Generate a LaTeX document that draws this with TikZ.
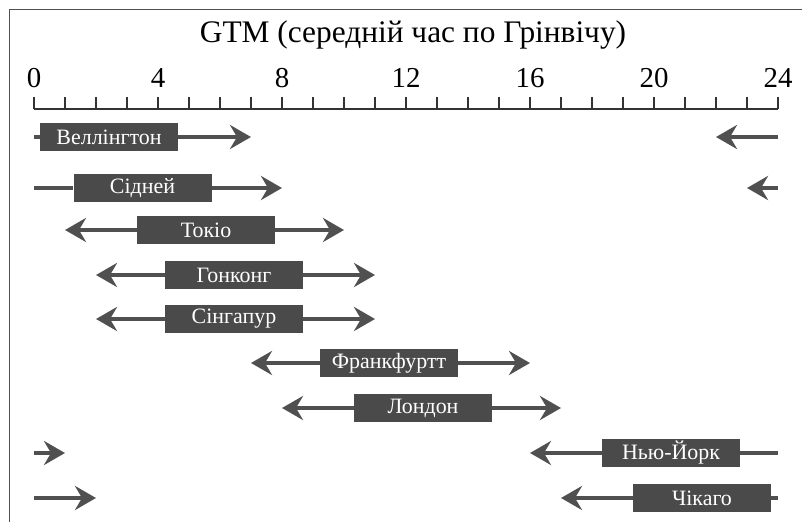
\documentclass[tikz,border=0pt]{standalone}
\usepackage{fontspec}
\setmainfont{Liberation Serif}
\usetikzlibrary{arrows.meta}
\definecolor{barfill}{HTML}{4A4A4A}
\definecolor{linegray}{HTML}{505050}
\begin{document}
\begin{tikzpicture}[x=1bp,y=-1bp,
  frame/.style={draw=linegray, line width=1.8bp},
  tickline/.style={draw=black!80, line width=1.4bp},
  span/.style={draw=linegray, line width=3.5bp},
  spanarrow/.style={span, -{Stealth[length=21bp,width=24bp,inset=7bp]}},
  market/.style={fill=barfill, text=white, minimum width=138bp, minimum height=28bp,
    inner sep=0pt, font=\fontsize{22}{24}\selectfont},
  hourlabel/.style={anchor=base, font=\fontsize{29}{32}\selectfont},
  title/.style={anchor=base, font=\fontsize{31.5}{34}\selectfont},
]
\useasboundingbox (0,0) rectangle (802,522);

% frame edges
\draw[frame] (9.5,522) |- (802,9.5);

% title and hour scale
\node[title] (ttl) at (413,43) {GTM (середній час по Грінвічу)};
\draw[tickline] (34,109) -- (778,109);
\foreach \h in {0,...,24} {
  \draw[tickline] ({34+31*\h},109) -- ({34+31*\h},97);
}
\foreach \h in {0,4,...,24} {
  \node[hourlabel] (lbl\h) at ({34+31*\h},88) {\h};
}

% hour positions: x = 34 + 31*h
% Wellington
\node[market] (wel) at (109,137) {Веллінгтон};
\coordinate (wel-l) at (34,137);
\coordinate (wel-r) at ({34+31*7},137);
\coordinate (wel-s) at (778,137);
\coordinate (wel-e) at ({34+31*22},137);
\draw[span] (wel-l) -- (wel.west);
\draw[spanarrow] (wel.east) -- (wel-r);
\draw[spanarrow] (wel-s) -- (wel-e);

% Sydney
\node[market] (syd) at (142.5,188) {Сідней};
\coordinate (syd-l) at (34,188);
\coordinate (syd-r) at ({34+31*8},188);
\coordinate (syd-s) at (778,188);
\coordinate (syd-e) at ({34+31*23},188);
\draw[span] (syd-l) -- (syd.west);
\draw[spanarrow] (syd.east) -- (syd-r);
\draw[spanarrow] (syd-s) -- (syd-e);

% Tokyo
\node[market] (tok) at (206,230) {Токіо};
\coordinate (tok-l) at ({34+31*1},230);
\coordinate (tok-r) at ({34+31*10},230);
\draw[spanarrow] (tok.west) -- (tok-l);
\draw[spanarrow] (tok.east) -- (tok-r);

% Hong Kong
\node[market] (hk) at (234,275) {Гонконг};
\coordinate (hk-l) at ({34+31*2},275);
\coordinate (hk-r) at ({34+31*11},275);
\draw[spanarrow] (hk.west) -- (hk-l);
\draw[spanarrow] (hk.east) -- (hk-r);

% Singapore
\node[market] (sin) at (234,319) {Сінгапур};
\coordinate (sin-l) at ({34+31*2},319);
\coordinate (sin-r) at ({34+31*11},319);
\draw[spanarrow] (sin.west) -- (sin-l);
\draw[spanarrow] (sin.east) -- (sin-r);

% Frankfurt
\node[market] (fra) at (389,363) {Франкфуртт};
\coordinate (fra-l) at ({34+31*7},363);
\coordinate (fra-r) at ({34+31*16},363);
\draw[spanarrow] (fra.west) -- (fra-l);
\draw[spanarrow] (fra.east) -- (fra-r);

% London
\node[market] (lon) at (423,408) {Лондон};
\coordinate (lon-l) at ({34+31*8},408);
\coordinate (lon-r) at ({34+31*17},408);
\draw[spanarrow] (lon.west) -- (lon-l);
\draw[spanarrow] (lon.east) -- (lon-r);

% New York
\node[market] (ny) at (671,453) {Нью-Йорк};
\coordinate (ny-l) at ({34+31*16},453);
\coordinate (ny-r) at (778,453);
\coordinate (ny-s) at (34,453);
\coordinate (ny-e) at ({34+31*1},453);
\draw[spanarrow] (ny.west) -- (ny-l);
\draw[span] (ny.east) -- (ny-r);
\draw[spanarrow] (ny-s) -- (ny-e);

% Chicago
\node[market] (chi) at (702,498) {Чікаго};
\coordinate (chi-l) at ({34+31*17},498);
\coordinate (chi-r) at (778,498);
\coordinate (chi-s) at (34,498);
\coordinate (chi-e) at ({34+31*2},498);
\draw[spanarrow] (chi.west) -- (chi-l);
\draw[span] (chi.east) -- (chi-r);
\draw[spanarrow] (chi-s) -- (chi-e);
\end{tikzpicture}
\end{document}
